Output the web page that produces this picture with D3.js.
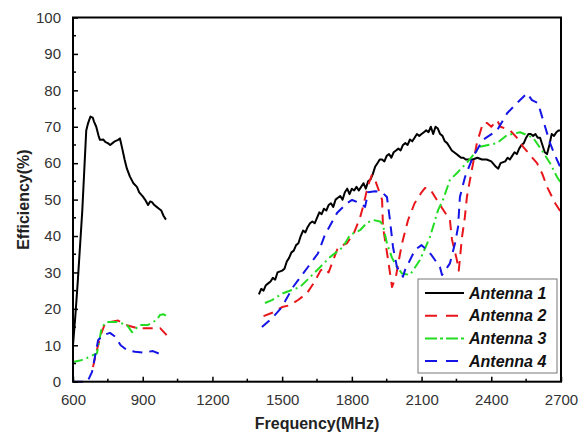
<!DOCTYPE html>
<html>
<head>
<meta charset="utf-8">
<script src="https://cdn.jsdelivr.net/npm/d3@7"></script>
<style>
  body { margin: 0; background: #fff; }
  #vis { width: 579px; height: 438px; }
  text { font-family: Arial, "Liberation Sans", sans-serif; }
</style>
</head>
<body>
<div id="vis"></div>
<script>
// frequency ticks and efficiency ticks
var xTicks = [600, 900, 1200, 1500, 1800, 2100, 2400, 2700];
var yTicks = [0, 10, 20, 30, 40, 50, 60, 70, 80, 90, 100];
var names = ['Antenna 1', 'Antenna 2', 'Antenna 3', 'Antenna 4'];

// [MHz, %], low band and high band
var ant1Low = [[600,10],[610,18],[620,27],[630,37],[640,47],[650,60],[657,69],[665,71],[675,72.8],[685,72.5],[690,71.5],[700,70],
  [710,67.5],[716,66.4],[730,66.5],[740,65.8],[750,65.5],[760,65],[770,65.5],[780,66],[794,66.4],[802,66.8],[812,64],[822,61],
  [832,58.5],[845,56.3],[860,54.5],[875,53.5],[885,52],[901,50.8],[910,50],[923,48.5],[932,49.5],[940,49.3],[950,48.5],
  [960,48],[970,47.5],[980,47],[990,45.5],[1000,44.5]];
var ant1High = [[1400,24],[1410,25.5],[1420,25],[1430,26.5],[1440,27],[1450,27.5],[1460,28.5],[1470,28],[1480,30],[1500,30.5],
  [1510,31],[1520,33],[1530,34],[1540,35.5],[1550,36],[1560,37.5],[1570,38],[1580,40],[1590,41.5],[1600,41],[1610,42.5],
  [1620,43.5],[1630,44],[1640,43.5],[1650,45],[1660,46.5],[1670,46],[1680,47.5],[1690,47],[1700,48.5],[1710,49],[1720,48],
  [1730,50],[1740,50.5],[1750,51],[1760,50],[1770,52],[1780,53],[1790,51.5],[1800,53],[1810,52.5],[1820,53.5],[1830,52.5],
  [1840,53.5],[1850,54.5],[1860,53],[1870,55],[1880,55.5],[1890,57],[1900,59],[1910,60],[1920,61],[1930,61],[1940,60.5],
  [1950,62],[1960,62.5],[1970,61.5],[1980,63],[1990,63.5],[2000,64],[2010,63.5],[2020,65],[2030,65.5],[2040,65],[2050,66.5],
  [2060,66],[2070,67],[2080,68],[2090,67.5],[2100,68],[2110,68.5],[2120,69],[2130,68.5],[2140,70],[2150,68],[2160,70],
  [2170,69.5],[2180,68],[2190,67.5],[2200,66],[2210,65.5],[2220,64.5],[2230,63.5],[2240,63],[2250,62.5],[2260,62],[2270,61.5],
  [2280,61.5],[2290,61],[2300,61],[2320,61],[2340,61.5],[2360,61],[2380,61],[2400,60.5],[2420,59],[2430,58.5],[2440,60],
  [2460,60.5],[2470,61.5],[2480,61],[2490,62],[2500,63],[2510,62.5],[2520,64],[2530,65],[2540,65.5],[2550,67],[2560,68],
  [2570,68],[2580,67.5],[2590,68],[2600,67],[2610,67],[2620,65],[2630,63],[2640,62.5],[2650,65],[2660,68],[2670,67.5],
  [2680,68.5],[2690,69],[2700,69]];

var ant2Low = [[686,4],[700,8],[720,13],[738,16],[760,16.4],[794,16.8],[815,16],[832,15.5],[875,14.7],[931,14.7],[975,14.7],[1003,12.8]];
var ant2High = [[1420,18],[1460,19],[1500,20.5],[1534,21],[1570,22.5],[1607,24.3],[1640,27.5],[1665,30.5],[1680,31.2],[1700,30],
  [1741,37],[1779,38],[1810,41],[1835,45],[1848,48],[1870,54],[1886,56.7],[1900,55.4],[1930,50],[1934,42.5],[1956,33.4],
  [1973,26],[1990,29],[2007,35],[2016,38],[2042,44.4],[2070,49],[2100,52],[2115,53.2],[2136,53],[2158,50.7],[2190,47.5],
  [2222,44.4],[2231,39],[2252,33.4],[2260,30.5],[2274,39.7],[2286,45],[2295,50.7],[2310,56],[2338,65.5],[2364,71],[2382,71],
  [2400,70],[2425,71.8],[2440,70],[2481,69],[2510,67],[2537,64.5],[2570,62],[2597,60],[2620,57],[2640,53.5],[2675,49],[2700,46.5]];

var ant3Low = [[600,5.4],[630,5.8],[660,6.5],[703,7.8],[724,15],[745,16.4],[788,16.4],[832,15.6],[854,13.6],[888,15.6],[923,15.6],
  [961,17],[974,18.3],[990,18.5],[1008,17.8]];
var ant3High = [[1426,21.6],[1456,22.4],[1504,24.3],[1577,26],[1650,30.6],[1706,34.2],[1762,37],[1792,40.3],[1835,41.6],
  [1865,43.6],[1891,44.4],[1921,44],[1934,43],[1951,38],[1973,34],[1994,31.5],[2016,29.7],[2050,29.3],[2093,33.4],[2136,39.7],
  [2171,47.1],[2192,49.9],[2222,55.4],[2257,57.6],[2300,60.5],[2351,64.5],[2425,65.5],[2468,67.7],[2524,68.5],[2580,67],
  [2623,63],[2653,60],[2683,56.2],[2700,54.5]];

var ant4Low = [[600,0],[640,0],[662,0],[682,2.7],[708,11.4],[730,12.8],[759,13.4],[781,12.4],[805,10],[832,8.7],[867,8.2],
  [900,8],[944,8.4],[974,7.6]];
var ant4High = [[1413,15],[1456,17.4],[1499,20.5],[1547,26],[1611,31.5],[1654,35.2],[1684,40.3],[1736,46.3],[1779,49],
  [1801,49.9],[1835,49],[1857,48],[1870,52],[1900,52.3],[1930,52],[1951,50.7],[1964,44.4],[1977,37],[1994,31.5],[2020,28.8],
  [2029,30.7],[2072,36.2],[2100,37.5],[2140,35],[2179,31.5],[2188,29.3],[2222,32.5],[2244,38],[2257,42.5],[2265,50.7],
  [2287,56.2],[2321,61.7],[2364,66.4],[2425,69],[2468,73.7],[2510,76.5],[2554,79.2],[2575,77.3],[2601,76.5],[2623,71.8],
  [2653,65.5],[2670,62.7],[2700,58.5]];

var colours = ['#000000', '#e8161b', '#22dd22', '#1414e6'];
var dashes = ['none', '10,7', '10,4,2,4', '10,7'];
var segments = [[ant1Low, ant1High], [ant2Low, ant2High], [ant3Low, ant3High], [ant4Low, ant4High]];

var width = 579, height = 438;
var margin = { top: 17.5, bottom: 56.3, left: 73, right: 18 };

var svg = d3.select('#vis')
  .append('svg')
  .attr('width', width)
  .attr('height', height);

var w = width - margin.left - margin.right;
var h = height - margin.top - margin.bottom;

var g = svg.append('g')
  .attr('transform', 'translate(' + margin.left + ',' + margin.top + ')');

var x_scale = d3.scaleLinear().domain([600, 2700]).range([0, w]);
var y_scale = d3.scaleLinear().domain([0, 100]).range([h, 0]);

var line = d3.line()
  .x(function(d) { return x_scale(d[0]); })
  .y(function(d) { return y_scale(d[1]); });

// curves
segments.forEach(function(segs, i) {
  segs.forEach(function(s) {
    g.append('path')
      .datum(s)
      .attr('d', line)
      .attr('fill', 'none')
      .attr('stroke', colours[i])
      .attr('stroke-width', 2)
      .attr('stroke-dasharray', dashes[i])
      .attr('stroke-linejoin', 'round');
  });
});

// minor ticks
var xMinor = d3.range(750, 2700, 300);
var yMinor = d3.range(5, 100, 10);

var x_axis = d3.axisBottom(x_scale).tickValues(xTicks).tickFormat(d3.format('d'))
  .tickSizeInner(-5).tickSizeOuter(0).tickPadding(13);
var y_axis = d3.axisLeft(y_scale).tickValues(yTicks).tickFormat(d3.format('d'))
  .tickSizeInner(-5).tickSizeOuter(0).tickPadding(12);

var xa = g.append('g')
  .attr('transform', 'translate(0,' + h + ')')
  .call(x_axis);
var ya = g.append('g').call(y_axis);

g.selectAll('.xminor').data(xMinor).enter().append('line')
  .attr('x1', function(d) { return x_scale(d); }).attr('x2', function(d) { return x_scale(d); })
  .attr('y1', h).attr('y2', h - 3)
  .attr('stroke', '#000').attr('stroke-width', 1.5);
g.selectAll('.yminor').data(yMinor).enter().append('line')
  .attr('y1', function(d) { return y_scale(d); }).attr('y2', function(d) { return y_scale(d); })
  .attr('x1', 0).attr('x2', 3)
  .attr('stroke', '#000').attr('stroke-width', 1.5);

[xa, ya].forEach(function(a) {
  a.select('.domain').remove();
  a.selectAll('line').attr('stroke', '#000').attr('stroke-width', 1.5);
  a.selectAll('text')
    .style('font-size', '15px')
    .style('font-family', 'Arial, "Liberation Sans", sans-serif')
    .attr('fill', '#333');
});

// frame
g.append('rect')
  .attr('width', w)
  .attr('height', h)
  .attr('fill', 'none')
  .attr('stroke', '#000')
  .attr('stroke-width', 2);

// axis titles
svg.append('text')
  .attr('x', margin.left + w / 2)
  .attr('y', 429)
  .attr('text-anchor', 'middle')
  .style('font-size', '16px')
  .style('font-weight', 'bold')
  .attr('fill', '#222')
  .text('Frequency(MHz)');

svg.append('text')
  .attr('transform', 'translate(29,' + (margin.top + h / 2) + ') rotate(-90)')
  .attr('text-anchor', 'middle')
  .style('font-size', '16px')
  .style('font-weight', 'bold')
  .attr('fill', '#222')
  .text('Efficiency(%)');

// legend
var lg = svg.append('g').attr('transform', 'translate(418,279)');
lg.append('rect')
  .attr('width', 139)
  .attr('height', 94)
  .attr('fill', '#fff')
  .attr('stroke', '#777')
  .attr('stroke-width', 1);

names.forEach(function(n, i) {
  var yy = 14 + i * 22.7;
  lg.append('line')
    .attr('x1', 7).attr('x2', 46)
    .attr('y1', yy).attr('y2', yy)
    .attr('stroke', colours[i])
    .attr('stroke-width', 2)
    .attr('stroke-dasharray', i == 0 ? 'none' : (i == 2 ? '12,3,3,3' : '12,9'));
  lg.append('text')
    .attr('x', 51)
    .attr('y', yy + 5.5)
    .style('font-size', '16px')
    .style('font-weight', 'bold')
    .style('font-style', 'italic')
    .attr('fill', '#111')
    .text(n);
});
</script>
</body>
</html>
